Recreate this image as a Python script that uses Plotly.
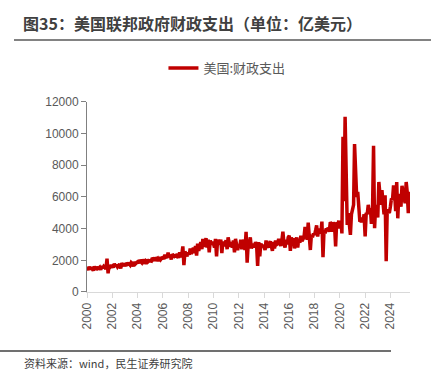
import plotly.graph_objects as go

years = list(range(2000, 2026))
v2000 = [1520,1380,1600,1410,1560,1480,1350,1620,1400,1580,1470,1500]
v2001 = [1560,1400,1650,1500,1620,1560,1450,2100,1180,1700,1560,1620]
v2002 = [1650,1550,1780,1620,1720,1580,1700,1760,1480,1820,1690,1720]
v2003 = [1740,1650,1840,1760,1780,1700,1860,1800,1620,1900,1780,1850]
v2004 = [1900,1820,2020,1920,1850,2050,1900,1960,1780,2050,1920,1980]
v2005 = [1960,1950,2150,2080,1980,2180,2060,2120,1950,2200,2060,2150]
v2006 = [2180,2080,2350,2220,2150,2480,2200,2360,2050,2380,2280,2250]
v2007 = [2300,2250,2400,2150,2500,2200,2350,2880,1700,2550,2420,2250]
v2008 = [2500,2350,2750,2400,2650,2780,2450,2900,2300,3050,2600,2800]
v2009 = [3150,2700,3350,2850,3100,3400,2800,3300,2500,3250,3000,3150]
v2010 = [3050,2800,3350,2250,3300,3000,3100,3300,2450,3200,2900,3050]
v2011 = [3250,2700,3450,3100,2850,3150,2800,3250,2500,3350,3100,2650]
v2012 = [2950,2850,3300,2700,3100,3300,2650,3800,1850,3000,3100,3450]
v2013 = [2750,2950,3050,2800,3150,2950,1640,3150,2250,3050,2900,2900]
v2014 = [2850,2650,3250,2900,2800,3050,3200,2900,2600,3150,2750,3250]
v2015 = [3000,3050,3350,3100,2900,3250,3800,3050,2800,3300,3000,3450]
v2016 = [3550,2600,3450,3050,3400,2750,3300,3450,2800,3350,3100,3550]
v2017 = [3200,3350,3450,4100,3650,3300,4380,3500,2650,3600,3450,3700]
v2018 = [3600,3900,4200,3500,4000,3800,3700,4440,2190,3900,3700,4000]
v2019 = [3900,4050,3800,4400,4300,3800,4400,4200,2880,4400,4150,4500]
v2020 = [4000,4500,3700,9800,5730,11050,5630,4230,4970,4360,3600,4900]
v2021 = [5380,5500,9340,6650,6000,6310,5640,4440,4500,4700,4400,4900]
v2022 = [3500,5000,4900,5500,4980,5300,4300,5000,9230,4020,5500,5000]
v2023 = [4700,6940,6300,5500,6420,5800,4900,6100,1940,5200,5100,4980]
v2024 = [5400,5900,5800,6730,6300,5100,6940,4650,6200,5800,5380,6700]
v2025 = [6400,6000,5600,6940,6300,4980,6100,6310]

yearly = [v2000,v2001,v2002,v2003,v2004,v2005,v2006,v2007,v2008,v2009,v2010,v2011,v2012,
          v2013,v2014,v2015,v2016,v2017,v2018,v2019,v2020,v2021,v2022,v2023,v2024,v2025]

dates, values = [], []
for y, vals in zip(years, yearly):
    for m, v in enumerate(vals):
        dates.append(f"{y}-{m+1:02d}-01")
        values.append(v)

series_name = "美国:财政支出"
title = "图35：美国联邦政府财政支出（单位：亿美元）"
source = "资料来源：wind，民生证券研究院"

W, H = 445, 383
ml, mr, mt, mb = 87, 35, 100, 91
PW, PH = W - ml - mr, H - mt - mb
font_fam = "Liberation Sans, Noto Sans CJK SC, sans-serif"

def px_x(px):
    return (px - ml) / PW

def px_y(py):
    return (H - mb - py) / PH

fig = go.Figure()
fig.add_trace(go.Scatter(x=dates, y=values, mode="lines", name=series_name,
                         line=dict(color="#C00000", width=3.5)))

fig.update_layout(
    width=W, height=H,
    margin=dict(l=ml, r=mr, t=mt, b=mb),
    paper_bgcolor="white", plot_bgcolor="white",
    font=dict(family=font_fam, color="#595959", size=12),
    showlegend=True,
    legend=dict(orientation="h", xref="container", yref="container",
                x=0.51, xanchor="center", y=1 - 68 / H, yanchor="middle",
                font=dict(size=13, color="#595959", family="Noto Sans CJK SC"),
                itemwidth=30),
    xaxis=dict(type="date", range=["2000-01-01", "2025-07-20"],
               dtick="M24", tick0="2000-01-01", tickformat="%Y",
               tickangle=-90, showgrid=False, showline=True,
               linecolor="#d9d9d9", linewidth=1, ticks="outside",
               tickcolor="#d9d9d9", ticklen=5,
               tickfont=dict(size=12, color="#595959")),
    yaxis=dict(range=[0, 12000], dtick=2000, tickformat="d", showgrid=False,
               showline=True, linecolor="#808080", linewidth=1, ticks="outside",
               tickcolor="#808080", ticklen=5, zeroline=False,
               tickfont=dict(size=12, color="#595959")),
    annotations=[
        dict(text="<b>" + title + "</b>", xref="paper", yref="paper",
             x=px_x(21), y=px_y(20), xanchor="left", yanchor="middle", showarrow=False,
             font=dict(size=16, color="#404040", family="Noto Sans CJK SC")),
        dict(text=source, xref="paper", yref="paper",
             x=px_x(22), y=px_y(364), xanchor="left", yanchor="middle", showarrow=False,
             font=dict(size=11, color="#404040", family="Noto Sans CJK SC")),
    ],
    shapes=[
        dict(type="line", xref="paper", yref="paper",
             x0=px_x(14), x1=px_x(431), y0=px_y(37.5), y1=px_y(37.5),
             line=dict(color="#595959", width=1.5)),
        dict(type="line", xref="paper", yref="paper",
             x0=px_x(0), x1=px_x(391), y0=px_y(351.5), y1=px_y(351.5),
             line=dict(color="#404040", width=1.5)),
    ],
)

fig.write_html("out.html", config={"displayModeBar": False},
               post_script="document.body.style.margin='0';")
